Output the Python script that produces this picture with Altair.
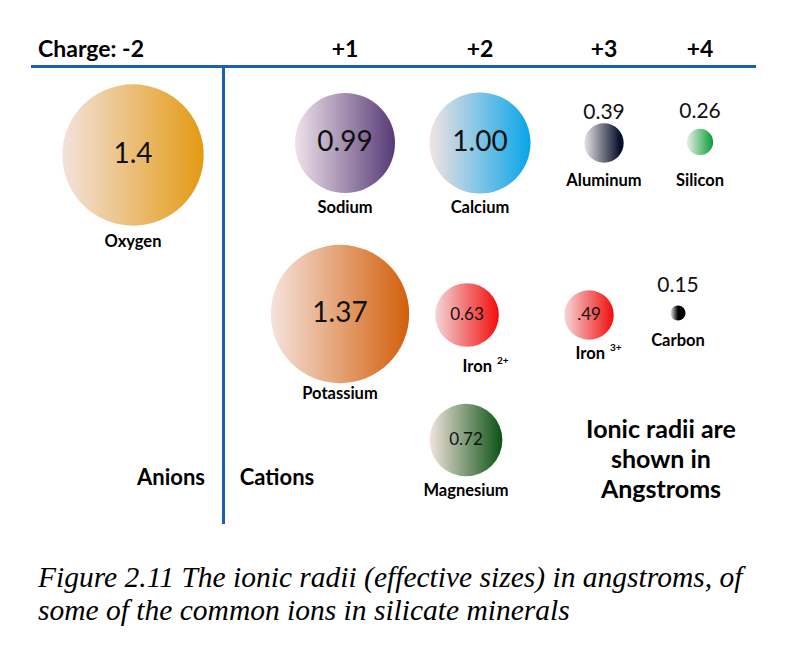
import math
import altair as alt
import pandas as pd

# ---------------- data ----------------
ions = ["Oxygen", "Sodium", "Calcium", "Aluminum", "Silicon",
        "Potassium", "Iron", "Iron", "Carbon", "Magnesium"]
superscripts = ["", "", "", "", "", "", "2+", "3+", "", ""]
charges = [-2, 1, 2, 3, 4, 1, 2, 3, 4, 2]
rows = [1, 1, 1, 1, 1, 2, 2, 2, 2, 3]
radii = [1.4, 0.99, 1.00, 0.39, 0.26, 1.37, 0.63, 0.49, 0.15, 0.72]
radius_labels = ["1.4", "0.99", "1.00", "0.39", "0.26", "1.37", "0.63", ".49", "0.15", "0.72"]

header_charges = [-2, 1, 2, 3, 4]
header_labels = ["Charge: -2", "+1", "+2", "+3", "+4"]

group_labels = ["Anions", "Cations"]
group_charges = [-2, 1]
note_text = "Ionic radii are\nshown in\nAngstroms"
caption_lines = ["Figure 2.11 The ionic radii (effective sizes) in angstroms, of",
                 "some of the common ions in silicate minerals"]

# ---------------- styles / layout ----------------
grad_left = ["#f3e2dc", "#eee2ea", "#f3e3e3", "#e6e2e6", "#e4f2e4",
             "#f5e3dc", "#f5d6d6", "#f5d6d6", "#e8e8e8", "#f2e3dd"]
grad_right = ["#e39a12", "#573a76", "#08a5e8", "#08102a", "#0c9a36",
              "#d25f0a", "#f20c0c", "#f20c0c", "#000000", "#0a5212"]
grad_end = [1, 1, 1, 0.9, 1, 1, 1, 1, 0.5, 1]
# (x nudge, y nudge, value-label dy, value font size, name dy, name dx)
layout = [
    (0, 12, 0, 28, 87, 0),
    (0, 0, 0, 28, 65, 0),
    (0, 0, 0, 28, 65, 0),
    (0, 0, -30, 21, 38, 0),
    (0, -1, -30, 21, 39, 0),
    (-5, 0, 0, 28, 80, 0),
    (-13, 1, 0, 17, 52, 25),
    (-15, 1, 0, 17, 39, 16),
    (-22, -1, -27, 21, 28, 0),
    (-14, 0, 0, 17, 51, 0),
]
K = 50.5  # px of circle radius per angstrom
FONT = "Lato"
LINE = "#1b5fb5"
NAME_FS = 16.5

df = pd.DataFrame({
    "key": [a + b for a, b in zip(ions, superscripts)],
    "ion": ions, "sup": superscripts, "charge": charges, "row": rows,
    "radius": radii, "label": radius_labels,
})
hdr = pd.DataFrame({"charge": header_charges, "text": header_labels, "row": [0] * 5})
grp = pd.DataFrame({"charge": group_charges, "text": group_labels, "row": [3, 3]})

x_scale = alt.Scale(domain=[-2, 1, 2, 3, 4], range=[125, 337, 472, 596, 692], nice=False, zero=False)
y_scale = alt.Scale(domain=[0, 1, 2, 3], range=[42, 135, 306, 432], nice=False, zero=False)
# Vega symbol size is the area of the bounding square: (2r)^2
size_scale = alt.Scale(type="pow", exponent=2, domain=[0, 1.4], range=[0, 4 * (1.4 * K) ** 2])

X = alt.X("charge:Q", scale=x_scale, axis=None)
Y = alt.Y("row:Q", scale=y_scale, axis=None)

layers = []

# separator lines
layers.append(alt.Chart(hdr).mark_rule(color=LINE, strokeWidth=3).encode(
    x=alt.value(23), x2=alt.value(748), y=alt.value(58.5)))
layers.append(alt.Chart(hdr).mark_rule(color=LINE, strokeWidth=3).encode(
    x=alt.value(215.5), y=alt.value(58.5), y2=alt.value(516)))

# headers
layers.append(alt.Chart(hdr).transform_filter(alt.datum.charge == -2).mark_text(
    font=FONT, fontSize=23, fontWeight="bold", align="right", baseline="middle", dx=11, color="#000"
).encode(x=X, y=Y, text="text:N"))
layers.append(alt.Chart(hdr).transform_filter(alt.datum.charge > 0).mark_text(
    font=FONT, fontSize=23, fontWeight="bold", align="center", baseline="middle", color="#000"
).encode(x=X, y=Y, text="text:N"))

# group labels
layers.append(alt.Chart(grp).transform_filter(alt.datum.charge == -2).mark_text(
    font=FONT, fontSize=22, fontWeight="bold", baseline="middle", dx=38, dy=38, color="#000"
).encode(x=X, y=Y, text="text:N"))
layers.append(alt.Chart(grp).transform_filter(alt.datum.charge == 1).mark_text(
    font=FONT, fontSize=22, fontWeight="bold", baseline="middle", dx=-68, dy=38, color="#000"
).encode(x=X, y=Y, text="text:N"))

# note
layers.append(alt.Chart(grp).transform_filter(alt.datum.charge == 1).mark_text(
    font=FONT, fontSize=25, fontWeight="bold", baseline="middle", lineBreak="\n", lineHeight=30,
    color="#000", text=note_text, dx=316, dy=-10
).encode(x=X, y=Y))

base = alt.Chart(df).encode(x=X, y=Y)

for i, key in enumerate(df["key"]):
    nx, ny, vdy, vfs, ndy, ndx = layout[i]
    sub = base.transform_filter(alt.datum.key == key)
    grad = alt.LinearGradient(
        gradient="linear", x1=0, x2=1, y1=0, y2=0,
        stops=[alt.GradientStop(color=grad_left[i], offset=0),
               alt.GradientStop(color=grad_right[i], offset=grad_end[i]),
               alt.GradientStop(color=grad_right[i], offset=1)])
    layers.append(sub.mark_circle(fill=grad, opacity=1, xOffset=nx, yOffset=ny).encode(
        size=alt.Size("radius:Q", scale=size_scale, legend=None)))
    layers.append(sub.mark_text(font=FONT, fontSize=vfs, baseline="middle", color="#111",
                                xOffset=nx, yOffset=ny, dy=vdy).encode(text="label:N"))
    if superscripts[i]:
        layers.append(sub.mark_text(font=FONT, fontSize=NAME_FS, fontWeight="bold", baseline="middle",
                                    align="right", color="#000",
                                    xOffset=nx, yOffset=ny, dx=ndx, dy=ndy).encode(text="ion:N"))
        layers.append(sub.mark_text(font=FONT, fontSize=10, fontWeight="bold", baseline="middle",
                                    align="left", color="#000",
                                    xOffset=nx, yOffset=ny, dx=ndx + 5, dy=ndy - 6).encode(text="sup:N"))
    else:
        layers.append(sub.mark_text(font=FONT, fontSize=NAME_FS, fontWeight="bold", baseline="middle",
                                    color="#000", xOffset=nx, yOffset=ny, dy=ndy).encode(text="ion:N"))

chart = alt.layer(*layers).properties(
    width=784, height=540,
    autosize=alt.AutoSizeParams(type="none"),
    padding={"left": 0, "right": 0, "top": 0, "bottom": 105},
    background="white",
    title=alt.TitleParams(
        caption_lines, orient="bottom", anchor="start", font="Liberation Serif",
        fontStyle="italic", fontWeight="normal", fontSize=29.5, lineHeight=33,
        color="#000", baseline="top", offset=16, dx=30),
).configure_view(stroke=None)

chart.save("out.html", embed_options={"renderer": "svg", "actions": False})
